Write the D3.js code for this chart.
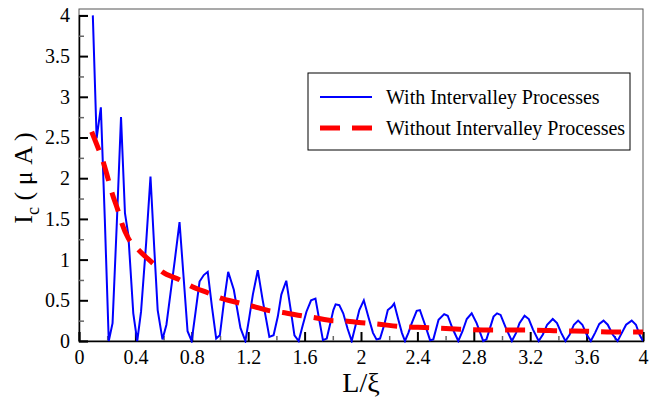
<!DOCTYPE html>
<html>
<head>
<meta charset="utf-8">
<script src="https://cdn.jsdelivr.net/npm/d3@7"></script>
<style>
  html, body { margin: 0; padding: 0; background: #fff; }
  svg { display: block; }
</style>
</head>
<body>
<svg id="chart" width="649" height="399" font-family="Liberation Serif, Times New Roman, serif"></svg>
<script>
// ---- data ----
const withX = [0.098,0.125,0.155,0.183,0.211,0.238,0.268,0.298,0.326,0.35,0.385,0.413,0.44,0.476,0.507,0.535,0.558,0.592,0.62,0.65,0.68,0.713,0.742,0.77,0.799,0.827,0.855,0.885,0.913,0.943,0.973,0.999,1.028,1.058,1.098,1.145,1.18,1.207,1.233,1.268,1.303,1.35,1.38,1.41,1.435,1.47,1.5,1.528,1.558,1.585,1.613,1.646,1.677,1.705,1.73,1.757,1.78,1.804,1.82,1.846,1.874,1.905,1.934,1.96,1.988,2.02,2.055,2.085,2.11,2.135,2.165,2.19,2.218,2.235,2.265,2.29,2.312,2.336,2.36,2.395,2.418,2.454,2.49,2.513,2.55,2.59,2.615,2.65,2.69,2.72,2.75,2.785,2.82,2.867,2.89,2.94,2.965,2.99,3.03,3.07,3.1,3.124,3.16,3.19,3.22,3.26,3.29,3.32,3.36,3.39,3.42,3.45,3.48,3.51,3.54,3.57,3.6,3.63,3.66,3.69,3.72,3.75,3.785,3.82,3.85,3.88,3.92,3.95,3.975,4.0];
const withY = [4.0,2.49,2.87,1.5,0.0,0.22,1.44,2.75,1.57,1.3,0.34,0.0,0.36,1.2,2.02,1.1,0.38,0.02,0.2,0.6,1.0,1.46,0.78,0.12,0.0,0.36,0.73,0.81,0.85,0.42,0.03,0.07,0.48,0.85,0.63,0.16,0.0,0.28,0.57,0.87,0.5,0.05,0.07,0.3,0.57,0.74,0.4,0.07,0.0,0.18,0.36,0.5,0.52,0.25,0.01,0.03,0.2,0.38,0.45,0.44,0.34,0.15,0.0,0.18,0.38,0.5,0.28,0.1,0.02,0.03,0.2,0.38,0.42,0.46,0.26,0.1,0.0,0.1,0.22,0.37,0.38,0.2,0.01,0.02,0.26,0.33,0.31,0.15,0.0,0.12,0.27,0.34,0.22,0.0,0.02,0.3,0.34,0.32,0.15,0.0,0.1,0.22,0.31,0.27,0.14,0.0,0.08,0.2,0.27,0.22,0.1,0.0,0.08,0.2,0.25,0.2,0.08,0.0,0.1,0.21,0.25,0.2,0.08,0.0,0.1,0.2,0.25,0.2,0.08,0.0];

const withoutX = [0.09,0.14,0.172,0.208,0.236,0.279,0.303,0.35,0.421,0.527,0.59,0.716,0.8,0.917,1.0,1.13,1.225,1.355,1.445,1.58,1.66,1.8,1.885,2.03,2.11,2.26,2.48,2.7,2.93,3.25,3.39,3.6,3.85,4.0];
const withoutY = [2.57,2.35,2.2,1.98,1.81,1.59,1.45,1.26,1.12,0.95,0.85,0.75,0.67,0.59,0.53,0.47,0.43,0.37,0.35,0.31,0.29,0.25,0.245,0.22,0.21,0.18,0.163,0.145,0.135,0.133,0.127,0.12,0.11,0.11];

const xMajorTicks = [0,0.4,0.8,1.2,1.6,2,2.4,2.8,3.2,3.6,4];
const xMinorTicks = [0.2,0.6,1.0,1.4,1.8,2.2,2.6,3.0,3.4,3.8];
const yMajorTicks = [0,0.5,1,1.5,2,2.5,3,3.5,4];
const yMinorTicks = [0.25,0.75,1.25,1.75,2.25,2.75,3.25,3.75];

const seriesNames = ["With Intervalley Processes", "Without Intervalley Processes"];

// ---- layout ----
const FONT = "Liberation Serif, Times New Roman, serif";
const svg = d3.select("#chart");
const L = 79, R = 643, T = 9, B = 341;
const x = d3.scaleLinear().domain([0, 4]).range([L, R]);
const y = d3.scaleLinear().domain([0, 4]).range([B, B - 4 * 81.4]);

// frame
svg.append("rect").attr("x", L).attr("y", T).attr("width", R - L).attr("height", B - T)
  .attr("fill", "none").attr("stroke", "#555").attr("stroke-width", 1);

// axes with inward ticks
const yAxis = d3.axisLeft(y).tickValues(yMajorTicks).tickSize(-9).tickPadding(14)
  .tickFormat(d => d3.format("")(d));
const gy = svg.append("g").attr("transform", `translate(${L},0)`).call(yAxis)
  .attr("font-family", FONT).attr("font-size", 20);
gy.selectAll("line").attr("stroke", "#000").attr("stroke-width", 2);
gy.select(".domain").attr("stroke", "#000").attr("stroke-width", 1.5);
gy.selectAll("text").attr("dx", "5").attr("fill", "#000");

const yMinor = d3.axisLeft(y).tickValues(yMinorTicks).tickSize(-5).tickFormat("");
const gym = svg.append("g").attr("transform", `translate(${L},0)`).call(yMinor);
gym.select(".domain").remove();
gym.selectAll("line").attr("stroke", "#666").attr("stroke-width", 1.5);

const xAxis = d3.axisBottom(x).tickValues(xMajorTicks).tickSize(-9).tickPadding(14)
  .tickFormat(d => d3.format("")(d));
const gx = svg.append("g").attr("transform", `translate(0,${B})`).call(xAxis)
  .attr("font-family", FONT).attr("font-size", 20);
gx.selectAll("line").attr("stroke", "#000").attr("stroke-width", 2);
gx.select(".domain").attr("stroke", "#000").attr("stroke-width", 1.5);
gx.selectAll("text").attr("dy", "0.45em").attr("fill", "#000");

const xMinor = d3.axisBottom(x).tickValues(xMinorTicks).tickSize(-5).tickFormat("");
const gxm = svg.append("g").attr("transform", `translate(0,${B})`).call(xMinor);
gxm.select(".domain").remove();
gxm.selectAll("line").attr("stroke", "#666").attr("stroke-width", 1.5);

// clip
svg.append("clipPath").attr("id", "clip").append("rect")
  .attr("x", L).attr("y", T).attr("width", R - L).attr("height", B - T + 2);

const line = d3.line().x(d => x(d[0])).y(d => y(d[1]));

const withData = withX.map((v, i) => [v, withY[i]]);
const withoutData = withoutX.map((v, i) => [v, withoutY[i]]);

svg.append("path").datum(withData).attr("clip-path", "url(#clip)")
  .attr("d", line).attr("fill", "none").attr("stroke", "#0000ff").attr("stroke-width", 2)
  .attr("stroke-linejoin", "miter");

svg.append("path").datum(withoutData)
  .attr("d", line.curve(d3.curveMonotoneX)).attr("fill", "none").attr("stroke", "#ff0000")
  .attr("stroke-width", 5).attr("stroke-dasharray", "20,12");

// legend
const lg = svg.append("g");
lg.append("rect").attr("x", 308).attr("y", 73).attr("width", 322).attr("height", 77)
  .attr("fill", "#fff").attr("stroke", "#000").attr("stroke-width", 1);
const rowsY = [97, 128];
lg.append("line").attr("x1", 320).attr("x2", 372).attr("y1", rowsY[0]).attr("y2", rowsY[0])
  .attr("stroke", "#0000ff").attr("stroke-width", 2);
lg.append("line").attr("x1", 320).attr("x2", 372).attr("y1", rowsY[1]).attr("y2", rowsY[1])
  .attr("stroke", "#ff0000").attr("stroke-width", 5).attr("stroke-dasharray", "20,12");
seriesNames.forEach((n, i) => {
  lg.append("text").attr("x", 386).attr("y", rowsY[i]).attr("dy", "0.35em")
    .attr("font-family", FONT).attr("font-size", 20).text(n);
});

// axis titles
svg.append("text").attr("x", x(2)).attr("y", 392).attr("text-anchor", "middle")
  .attr("font-family", FONT).attr("font-size", 28).text("L/ξ");

const yt = svg.append("text").attr("transform", "translate(32,178) rotate(-90)")
  .attr("text-anchor", "middle").attr("font-family", FONT).attr("font-size", 26);
yt.append("tspan").text("I");
yt.append("tspan").attr("font-size", 18).attr("dy", 7).text("c");
yt.append("tspan").attr("dy", -7).text(" ( μ A )");
</script>
</body>
</html>
